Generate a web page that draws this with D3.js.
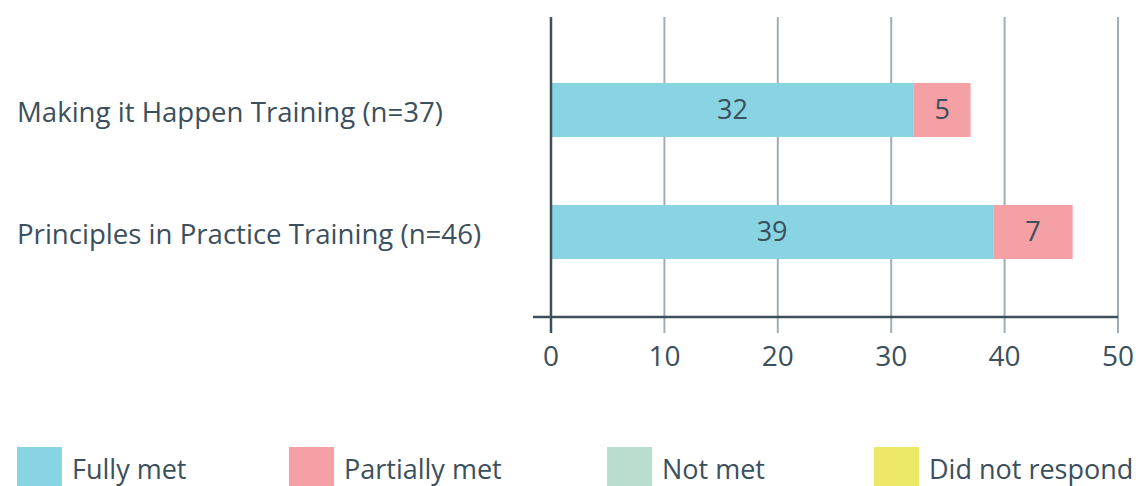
<!DOCTYPE html>
<html>
<head>
<meta charset="utf-8">
<script src="https://cdn.jsdelivr.net/npm/d3@7"></script>
<style>
  html, body { margin: 0; padding: 0; background: #fff; }
  svg text { font-family: "Open Sans", "Noto Sans", sans-serif; fill: #3b4f5c; }
</style>
</head>
<body>
<div id="chart"></div>
<script>
(function() {
var categories = ['Making it Happen Training (n=37)', 'Principles in Practice Training (n=46)'];
var seriesNames = ['Fully met', 'Partially met', 'Not met', 'Did not respond'];
var fullyMet = [32, 39];
var partiallyMet = [5, 7];
var notMet = [0, 0];
var didNotRespond = [0, 0];
var xTicks = [0, 10, 20, 30, 40, 50];
var colors = ['#89d4e2', '#f5a0a5', '#b9ddcf', '#ede868'];

var width = 1136, height = 486;
var seriesValues = [fullyMet, partiallyMet, notMet, didNotRespond];

var svg = d3.select('#chart').append('svg')
    .attr('width', width)
    .attr('height', height);

var x = d3.scaleLinear().domain([0, 50]).range([551, 1118]);
var y = d3.scaleBand().domain(categories).range([22, 320]).paddingInner(0.557).paddingOuter(0.5);

// gridlines
svg.selectAll('line.grid').data(xTicks.slice(1))
  .enter().append('line')
    .attr('class', 'grid')
    .attr('x1', function(d) { return x(d); })
    .attr('x2', function(d) { return x(d); })
    .attr('y1', 17).attr('y2', 333)
    .attr('stroke', '#a3adb6').attr('stroke-width', 2);

// stacked bars
var table = categories.map(function(c, i) {
  var row = { cat: c };
  seriesNames.forEach(function(s, k) { row[s] = seriesValues[k][i]; });
  return row;
});
var stacked = d3.stack().keys(seriesNames)(table);

var groups = svg.selectAll('g.series').data(stacked)
  .enter().append('g')
    .attr('class', 'series')
    .attr('fill', function(d, k) { return colors[k]; });

groups.selectAll('rect').data(function(d) { return d; })
  .enter().append('rect')
    .attr('x', function(d) { return x(d[0]); })
    .attr('width', function(d) { return x(d[1]) - x(d[0]); })
    .attr('y', function(d) { return y(d.data.cat); })
    .attr('height', y.bandwidth());

groups.selectAll('text').data(function(d) { return d.filter(function(p) { return p[1] > p[0]; }); })
  .enter().append('text')
    .attr('x', function(d) { return (x(d[0]) + x(d[1])) / 2; })
    .attr('y', function(d) { return y(d.data.cat) + y.bandwidth() / 2; })
    .attr('dy', '0.35em')
    .attr('text-anchor', 'middle')
    .attr('font-size', 27)
    .text(function(d) { return d[1] - d[0]; });

// category labels
svg.selectAll('text.cat').data(categories)
  .enter().append('text')
    .attr('class', 'cat')
    .attr('x', 17)
    .attr('y', function(d) { return y(d) + y.bandwidth() / 2 + 2; })
    .attr('dy', '0.35em')
    .attr('font-size', 27.6)
    .text(function(d) { return d; });

// axes lines
svg.append('line')
    .attr('x1', x(0)).attr('x2', x(0))
    .attr('y1', 17).attr('y2', 333)
    .attr('stroke', '#3e4f5b').attr('stroke-width', 2.5);
svg.append('line')
    .attr('x1', 533).attr('x2', x(50))
    .attr('y1', 317).attr('y2', 317)
    .attr('stroke', '#3e4f5b').attr('stroke-width', 2.5);

svg.selectAll('text.tick').data(xTicks)
  .enter().append('text')
    .attr('class', 'tick')
    .attr('x', function(d) { return x(d); })
    .attr('y', 356)
    .attr('dy', '0.35em')
    .attr('text-anchor', 'middle')
    .attr('font-size', 28)
    .text(function(d) { return d; });

// legend
var legendX = [17, 289, 607, 874];
var legend = svg.selectAll('g.legend').data(seriesNames)
  .enter().append('g')
    .attr('class', 'legend')
    .attr('transform', function(d, k) { return 'translate(' + legendX[k] + ',447)'; });
legend.append('rect')
    .attr('width', 45).attr('height', 40)
    .attr('fill', function(d, k) { return colors[k]; });
legend.append('text')
    .attr('x', 55).attr('y', 23)
    .attr('dy', '0.35em')
    .attr('font-size', 27)
    .text(function(d) { return d; });
})();
</script>
</body>
</html>
